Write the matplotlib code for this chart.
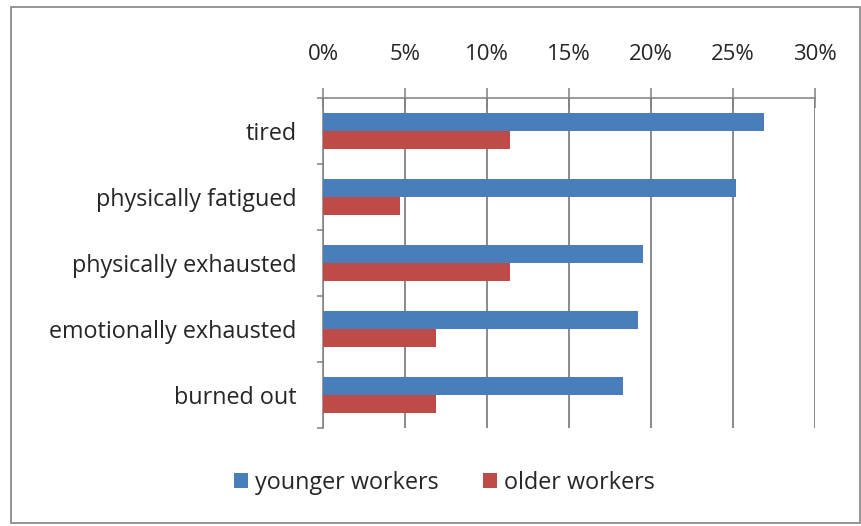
import numpy as np
import matplotlib.pyplot as plt
from matplotlib.patches import Rectangle

categories = ["tired", "physically fatigued", "physically exhausted",
              "emotionally exhausted", "burned out"]
younger = [26.9, 25.2, 19.5, 19.2, 18.3]
older = [11.4, 4.7, 11.4, 6.9, 6.9]
xticks = [0, 5, 10, 15, 20, 25, 30]
series_names = ["younger workers", "older workers"]

BLUE = "#4a7ebb"
RED = "#be4b48"
GRID = "#808080"
TEXT = "#262626"
FS = 16

plt.rcParams["font.family"] = ["Open Sans", "DejaVu Sans"]

W, H = 862, 526
fig = plt.figure(figsize=(W / 100, H / 100), dpi=100)
fig.patch.set_facecolor("white")

# plot area in pixels: x 323..815, y 98..428
ax = fig.add_axes([323 / W, 1 - 428 / H, (815 - 323) / W, (428 - 98) / H])

y = np.arange(len(categories))
h = 0.275
ax.barh(y - h / 2, younger, height=h, color=BLUE, label=series_names[0], zorder=3)
ax.barh(y + h / 2, older, height=h, color=RED, label=series_names[1], zorder=3)

ax.set_xlim(0, 30)
ax.set_ylim(len(categories) - 0.5, -0.5)
ax.xaxis.tick_top()
ax.set_xticks(xticks)
ax.set_xticklabels([f"{t}%" for t in xticks], fontsize=FS, color=TEXT)
ax.tick_params(axis="x", direction="inout", length=15, width=1.1, color=GRID, pad=16)

ax.set_yticks(y)
ax.set_yticklabels(categories, fontsize=FS + 0.8, color=TEXT)
ax.set_yticks(np.arange(len(categories) + 1) - 0.5, minor=True)
ax.tick_params(axis="y", which="major", length=0, pad=19)
ax.tick_params(axis="y", which="minor", length=4, width=1.1, color=GRID)

ax.grid(axis="x", color=GRID, linewidth=1.3, zorder=0)
for side in ["right", "bottom"]:
    ax.spines[side].set_visible(False)
ax.spines["top"].set_color(GRID)
ax.spines["left"].set_color(GRID)
ax.spines["top"].set_linewidth(1.1)
ax.spines["left"].set_linewidth(1.1)

leg = fig.legend(loc="center", bbox_to_anchor=(444 / W, 1 - 483 / H), ncol=2,
                 frameon=False, fontsize=FS + 0.8, handlelength=0.6, handleheight=0.6,
                 handletextpad=0.3, columnspacing=1.9)
for t in leg.get_texts():
    t.set_color(TEXT)

# chart border
fig.add_artist(Rectangle((11 / W, 1 - 523 / H), (860 - 11) / W, (523 - 7) / H,
                         transform=fig.transFigure, fill=False,
                         edgecolor="#8c8c8c", linewidth=1.3))

fig.savefig("out.png", dpi=100)
